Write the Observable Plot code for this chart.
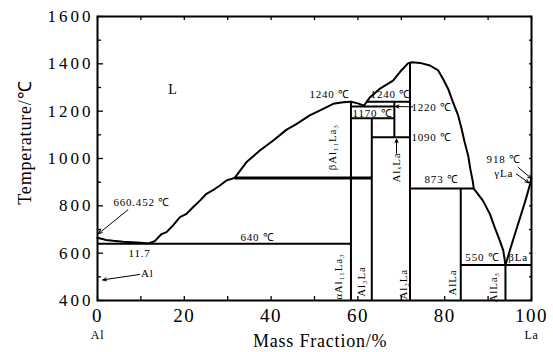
<!DOCTYPE html>
<html><head><meta charset="utf-8">
<script src="https://cdn.jsdelivr.net/npm/d3@7"></script>
<script src="https://cdn.jsdelivr.net/npm/@observablehq/plot@0.6"></script>
<style>
html,body{margin:0;padding:0;background:#fff;}
svg{font-family:"Liberation Serif","Times New Roman",serif;}
g[aria-label="y-axis tick label"] text{letter-spacing:3px;}
g[aria-label="x-axis tick label"] text{letter-spacing:1.5px;}
</style></head><body><div id="chart"></div>
<script>
// ---- tick values ----
const xTickLabels = [0, 20, 40, 60, 80, 100];
const xMinorTicks = [0,10,20,30,40,50,60,70,80,90,100];
const yTickLabels = [400, 600, 800, 1000, 1200, 1400, 1600];
const yMinorTicks = [500, 700, 900, 1100, 1300, 1500];
const yAllTicks = [400,500,600,700,800,900,1000,1100,1200,1300,1400,1500,1600];

// ---- liquidus curves [mass % La, T °C] ----
const liquidusAlSide = [[0,665],[2,656],[3.6,652],[5.9,648],[8,646],[10,644],[11.7,641],[13.2,651],[14.7,680],[15.9,689],[17.4,717],[19,752],[20.5,766],[22,794],[23.6,822],[25.1,851],[26.6,866],[28.2,886],[29.7,907],[31.6,918],[34.3,984],[37.4,1034],[40.5,1076],[43.5,1121],[45.9,1146],[48.9,1182],[52,1210],[54.3,1231],[56.6,1238],[58.4,1240]];
const liquidusMiddle = [[58.4,1240],[60,1233],[61.4,1223],[62.8,1259],[65,1294],[68.1,1329],[70,1372],[71.6,1403],[72.5,1407],[74.3,1404],[76.6,1393],[78.5,1372],[79.6,1337],[80.8,1294],[81.9,1238],[83.1,1182],[83.9,1125],[84.6,1069],[85.4,1013],[85.9,956],[86.5,900],[86.7,873],[88.8,822],[90.4,766],[91.5,710],[92.7,653],[93.5,611],[94,550]];
const liquidusLaSide = [[94,550],[95,611],[96.2,682],[97.4,752],[98.6,822],[99.7,893],[100,918]];

// ---- invariant reactions (isotherms) ----
const isotherms = [
  {T:640, from:0, to:58.4},
  {T:1220, from:58.4, to:68.4},
  {T:1170, from:58.4, to:68.4},
  {T:1240, from:61.9, to:72},
  {T:1090, from:63.2, to:72},
  {T:873, from:72, to:86.7},
  {T:550, from:83.7, to:100}
];
const peritectic = [{T:918, from:31.6, to:63.2}];

// ---- compound lines ----
const compounds = [
  {x:58.4, bottom:400, top:1240},
  {x:63.2, bottom:400, top:1170},
  {x:68.4, bottom:1090, top:1240},
  {x:72.0, bottom:400, top:1407},
  {x:83.7, bottom:400, top:873},
  {x:94.0, bottom:400, top:550}
];

// ---- text annotations (data coordinates) ----
const labels = [
  {text:"660.452 ℃", x:10.2, T:814},
  {text:"11.7", x:9.7, T:599},
  {text:"Al", x:11.5, T:514},
  {text:"640 ℃", x:36.9, T:667},
  {text:"1240 ℃", x:53.5, T:1269},
  {text:"1240 ℃", x:67.6, T:1270},
  {text:"1220 ℃", x:77, T:1217},
  {text:"1170 ℃", x:63.4, T:1189},
  {text:"1090 ℃", x:77, T:1090},
  {text:"873 ℃", x:79.3, T:911},
  {text:"918 ℃", x:93.6, T:997},
  {text:"γLa", x:93.6, T:935},
  {text:"550 ℃", x:88.7, T:580},
  {text:"βLa", x:96.9, T:580}
];
const phaseL = [{text:"L", x:17.4, T:1291}];
const rotatedLabels = [
  {text:"βAl₁₁La₃", x:54.2, T:1048},
  {text:"AlₓLa", x:69, T:962},
  {text:"αAl₁₁La₃", x:55.6, T:501},
  {text:"Al₃La", x:60.8, T:480},
  {text:"Al₂La", x:70.6, T:469},
  {text:"AlLa", x:81.8, T:476},
  {text:"AlLa₃", x:91.2, T:456}
];
const arrows = [
  {x1:7, T1:783, x2:0.2, T2:682},
  {x1:9.7, T1:510, x2:1.2, T2:487},
  {x1:72.6, T1:1218, x2:68.6, T2:1220},
  {x1:68.9, T1:1022, x2:68.9, T2:1082},
  {x1:96.9, T1:963, x2:100, T2:915},
  {x1:96.5, T1:935, x2:99.4, T2:897}
];
const endLabels = [{text:"Al", x:0}, {text:"La", x:100}];
const xTitle = [{text:"Mass Fraction/%", x:51.3}];
const yTitle = [{text:"Temperature/℃", T:1067}];

const font = '"Liberation Serif","Times New Roman",serif';

const chart = Plot.plot({
  width: 553, height: 352,
  marginLeft: 97, marginRight: 22, marginTop: 16, marginBottom: 52,
  x: {domain: [0, 100]},
  y: {domain: [400, 1600]},
  style: {background: "white", color: "black", fontFamily: font, overflow: "visible"},
  marks: [
    Plot.axisX({ticks: xMinorTicks, tickSize: -4, fill: "none", label: null, strokeWidth: 1.3}),
    Plot.axisX({anchor: "top", ticks: xMinorTicks, tickSize: -3, fill: "none", label: null, strokeWidth: 1.3}),
    Plot.axisY({ticks: yTickLabels, tickSize: -6, fill: "none", label: null, strokeWidth: 1.3}),
    Plot.axisY({ticks: yMinorTicks, tickSize: -4, fill: "none", label: null, strokeWidth: 1.3}),
    Plot.axisY({anchor: "right", ticks: yAllTicks, tickSize: -3, fill: "none", label: null, strokeWidth: 1.3}),
    Plot.axisX({ticks: xTickLabels, tickSize: 0, tickPadding: 8, fontSize: 19, label: null, tickFormat: d => String(d)}),
    Plot.axisY({ticks: yTickLabels, tickSize: 0, tickPadding: 4, fontSize: 17, label: null, tickFormat: d => String(d)}),
    Plot.frame({strokeWidth: 2}),
    Plot.line(liquidusAlSide, {x: "0", y: "1", strokeWidth: 2}),
    Plot.line(liquidusMiddle, {x: "0", y: "1", strokeWidth: 2}),
    Plot.line(liquidusLaSide, {x: "0", y: "1", strokeWidth: 2}),
    Plot.link(isotherms, {x1: "from", x2: "to", y1: "T", y2: "T", strokeWidth: 2}),
    Plot.link(peritectic, {x1: "from", x2: "to", y1: "T", y2: "T", strokeWidth: 3}),
    Plot.link(compounds, {x1: "x", x2: "x", y1: "bottom", y2: "top", strokeWidth: 2}),
    Plot.arrow(arrows, {x1: "x1", y1: "T1", x2: "x2", y2: "T2", strokeWidth: 1, headLength: 6, headAngle: 45}),
    Plot.text(labels, {x: "x", y: "T", text: "text", fontSize: 11}),
    Plot.text(phaseL, {x: "x", y: "T", text: "text", fontSize: 14}),
    Plot.text(rotatedLabels, {x: "x", y: "T", text: "text", fontSize: 11, rotate: -90}),
    Plot.text(endLabels, {x: "x", text: "text", frameAnchor: "bottom", lineAnchor: "middle", textAnchor: "middle", dy: 35, fontSize: 12}),
    Plot.text(xTitle, {x: "x", text: "text", frameAnchor: "bottom", lineAnchor: "middle", textAnchor: "middle", dy: 41, fontSize: 18}),
    Plot.text(yTitle, {y: "T", text: "text", frameAnchor: "left", lineAnchor: "middle", textAnchor: "middle", dx: -72, rotate: -90, fontSize: 18})
  ]
});
document.getElementById("chart").appendChild(chart);
d3.select(chart).selectAll('g[aria-label="text"] text').style("letter-spacing", "0.8px");
</script>
</body></html>
